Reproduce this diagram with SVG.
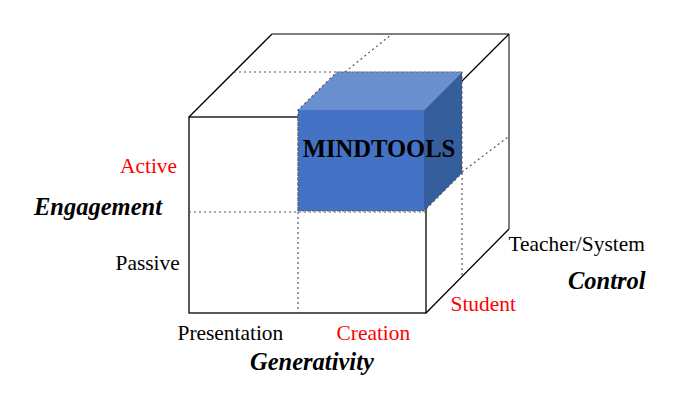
<svg xmlns="http://www.w3.org/2000/svg" width="682" height="403" viewBox="0 0 682 403">
<style>
.edge{stroke:#000;stroke-width:1.3;fill:none}
.back{stroke:#555;stroke-width:1.5;fill:none}
.dot{stroke:#555;stroke-width:1.2;stroke-dasharray:2 3;fill:none}
.lbl{font-family:"Liberation Serif","Times New Roman",serif;font-size:21.4px}
.axis{font-family:"Liberation Serif","Times New Roman",serif;font-size:24.5px;font-weight:bold;font-style:italic}
.red{fill:#FF0000}
</style>
<rect width="682" height="403" fill="#fff"/>
<g id="outer-cube">
<polygon points="189,117 272,34 509,34 509,229 426,313 189,313" fill="#fff" stroke="none"/>
<line class="back" x1="272" y1="34" x2="509" y2="34"/>
<line class="back" x1="509" y1="34" x2="509" y2="229"/>
<line class="edge" x1="189" y1="117" x2="272" y2="34"/>
<line class="edge" x1="426" y1="117" x2="509" y2="34"/>
<line class="edge" x1="426" y1="313" x2="509" y2="229"/>
<rect class="edge" x="189" y="117" width="237" height="196"/>
</g>
<g id="grid-lines">
<line class="dot" x1="234" y1="72" x2="462" y2="72"/>
<line class="dot" x1="345" y1="72" x2="392" y2="34"/>
<line class="dot" x1="189" y1="212" x2="426" y2="212"/>
<line class="dot" x1="298" y1="117" x2="298" y2="313"/>
<line class="dot" x1="462" y1="172" x2="508" y2="137"/>
<line class="dot" x1="462" y1="173" x2="462" y2="276"/>
</g>
<g id="mindtools">
<polygon points="298,110 337,72 462,72 424,110" fill="#6A8FCF"/>
<polygon points="424,110 462,72 462,173 424,211" fill="#355E9D"/>
<rect x="298" y="110" width="126" height="101" fill="#4472C4"/>
<polyline class="dot" points="298,211 298,110 337,72 462,72 462,173 424,211 298,211"/>
<text x="379" y="156.5" text-anchor="middle" font-family="Liberation Serif,'Times New Roman',serif" font-size="24.6" font-weight="bold">MINDTOOLS</text>
</g>
<g id="labels">
<text class="lbl red" x="120" y="172.5">Active</text>
<text class="lbl" x="115.5" y="270">Passive</text>
<text class="axis" x="34" y="215">Engagement</text>
<text class="lbl" x="177.5" y="340">Presentation</text>
<text class="lbl red" x="336.5" y="340">Creation</text>
<text class="axis" x="250" y="370">Generativity</text>
<text class="lbl" x="508.5" y="250.5">Teacher/System</text>
<text class="axis" x="568" y="288.5">Control</text>
<text class="lbl red" x="450.5" y="311">Student</text>
</g>
</svg>
